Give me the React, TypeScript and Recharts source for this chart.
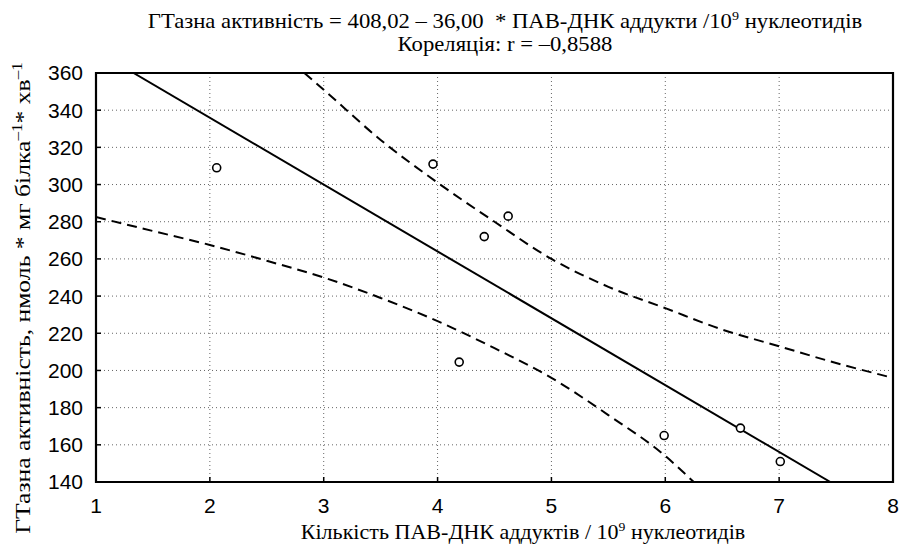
import React from "react"
import {
  CartesianGrid,
  ComposedChart,
  Line,
  ReferenceArea,
  Scatter,
  XAxis,
  YAxis,
} from "recharts"

// observed points
const adductX = [2.06, 3.96, 4.19, 4.41, 4.62, 5.99, 6.66, 7.01]
const gtaseY = [309, 311, 204.5, 272, 283, 165, 169, 151]

// regression line (ends read where it leaves the frame)
const fitX = [1.33, 7.45]
const fitY = [360, 140]

// 95% confidence band
const upperX = [2.83, 3, 3.5, 4, 4.5, 5, 5.5, 6, 6.5, 7, 7.5, 8]
const upperY = [360, 351, 324, 301, 280, 260, 245, 233.5, 222, 213, 204, 196]
const lowerX = [1, 1.5, 2, 2.5, 3, 3.5, 4, 4.5, 5, 5.5, 6, 6.25]
const lowerY = [282.5, 275, 267.5, 259, 250, 239, 226.5, 212, 196, 176, 154, 140]

const xTicks = [1, 2, 3, 4, 5, 6, 7, 8]
const yTicks = [140, 160, 180, 200, 220, 240, 260, 280, 300, 320, 340, 360]

const zip = (xs: number[], ys: number[]) => xs.map((x, i) => ({ x, y: ys[i] }))

const points = zip(adductX, gtaseY)
const fit = zip(fitX, fitY)
const upper = zip(upperX, upperY)
const lower = zip(lowerX, lowerY)

const serif = "'Times New Roman', 'Liberation Serif', Tinos, 'DejaVu Serif', serif"
const sans = "'Liberation Sans', Arial, sans-serif"

const GAP_X = 16
const GAP_Y = 13
const TICK = 5

const Ring = (props: any) => {
  const { cx, cy } = props
  return <circle cx={cx} cy={cy} r={4} fill="#fff" stroke="#000" strokeWidth={1.6} />
}

// inward tick marks on the frame + labels
const BottomTick = (props: any) => {
  const { x, y, payload } = props
  const y0 = y - GAP_X
  return (
    <g>
      <line x1={x} x2={x} y1={y0} y2={y0 - TICK} stroke="#000" strokeWidth={1.5} />
      <text x={x} y={y} dy="0.71em" textAnchor="middle" fill="#000" fontFamily={sans} fontSize={21}>
        {payload.value}
      </text>
    </g>
  )
}

const LeftTick = (props: any) => {
  const { x, y, payload } = props
  const x0 = x + GAP_Y
  return (
    <g>
      <line x1={x0} x2={x0 + TICK} y1={y} y2={y} stroke="#000" strokeWidth={1.5} />
      <text x={x} y={y} dy="0.355em" textAnchor="end" fill="#000" fontFamily={sans} fontSize={21}>
        {payload.value}
      </text>
    </g>
  )
}

const TopTick = (props: any) => {
  const { x, y } = props
  return <line x1={x} x2={x} y1={y} y2={y + TICK} stroke="#000" strokeWidth={1.5} />
}

const RightTick = (props: any) => {
  const { x, y } = props
  return <line x1={x} x2={x - TICK} y1={y} y2={y} stroke="#000" strokeWidth={1.5} />
}

export default function App() {
  return (
    <div style={{ position: "absolute", left: 0, top: 0, width: 904, height: 549, background: "#fff" }}>
      <ComposedChart
        width={904}
        height={549}
        margin={{ top: 72, right: 10, bottom: 37, left: 0 }}
        style={{ position: "absolute", left: 0, top: 0 }}
      >
        <CartesianGrid stroke="#666" strokeDasharray="1 3" />
        <XAxis
          type="number"
          dataKey="x"
          domain={[1, 8]}
          ticks={xTicks}
          allowDataOverflow
          height={30}
          axisLine={false}
          tickLine={false}
          tickSize={0}
          tickMargin={GAP_X}
          tick={<BottomTick />}
        />
        <XAxis
          xAxisId="top"
          orientation="top"
          type="number"
          domain={[1, 8]}
          ticks={xTicks}
          height={1}
          axisLine={false}
          tickLine={false}
          tickSize={0}
          tickMargin={0}
          tick={<TopTick />}
        />
        <YAxis
          type="number"
          dataKey="y"
          domain={[140, 360]}
          ticks={yTicks}
          allowDataOverflow
          width={96}
          axisLine={false}
          tickLine={false}
          tickSize={0}
          tickMargin={GAP_Y}
          tick={<LeftTick />}
        />
        <YAxis
          yAxisId="right"
          orientation="right"
          type="number"
          domain={[140, 360]}
          ticks={yTicks}
          width={1}
          axisLine={false}
          tickLine={false}
          tickSize={0}
          tickMargin={0}
          tick={<RightTick />}
        />
        <ReferenceArea x1={1} x2={8} y1={140} y2={360} fill="none" stroke="#000" strokeWidth={2.2} ifOverflow="visible" />
        <Line data={upper} dataKey="y" type="monotone" stroke="#000" strokeWidth={2} strokeDasharray="10 6" dot={false} isAnimationActive={false} />
        <Line data={lower} dataKey="y" type="monotone" stroke="#000" strokeWidth={2} strokeDasharray="10 6" dot={false} isAnimationActive={false} />
        <Line data={fit} dataKey="y" type="linear" stroke="#000" strokeWidth={2} dot={false} isAnimationActive={false} />
        <Scatter data={points} dataKey="y" shape={<Ring />} isAnimationActive={false} />
      </ComposedChart>

      <div
        style={{
          position: "absolute",
          left: 0,
          top: 10,
          width: 1010,
          textAlign: "center",
          fontFamily: serif,
          fontSize: 21,
          lineHeight: "23px",
          color: "#000",
          whiteSpace: "nowrap",
          transform: "scaleX(1.08)",
          transformOrigin: "505px 0",
        }}
      >
        <div>
          ГТазна активність = 408,02 – 36,00&nbsp; * ПАВ-ДНК аддукти /10<sup style={{ fontSize: 13, lineHeight: 0 }}>9</sup> нуклеотидів
        </div>
        <div>Кореляція: r = –0,8588</div>
      </div>

      <div
        style={{
          position: "absolute",
          left: 0,
          top: 521,
          width: 1046,
          textAlign: "center",
          fontFamily: serif,
          fontSize: 21,
          lineHeight: "23px",
          color: "#000",
          whiteSpace: "nowrap",
          transform: "scaleX(1.05)",
          transformOrigin: "523px 0",
        }}
      >
        Кількість ПАВ-ДНК аддуктів / 10<sup style={{ fontSize: 13, lineHeight: 0 }}>9</sup> нуклеотидів
      </div>

      <div
        style={{
          position: "absolute",
          left: 23,
          top: 298,
          transform: "translate(-50%, -50%) rotate(-90deg) scaleX(1.22)",
          fontFamily: serif,
          fontSize: 21,
          lineHeight: "23px",
          color: "#000",
          whiteSpace: "nowrap",
        }}
      >
        ГТазна активність, нмоль * мг білка<sup style={{ fontSize: 14, lineHeight: 0 }}>–1</sup>* хв<sup style={{ fontSize: 14, lineHeight: 0 }}>–1</sup>
      </div>
    </div>
  )
}
